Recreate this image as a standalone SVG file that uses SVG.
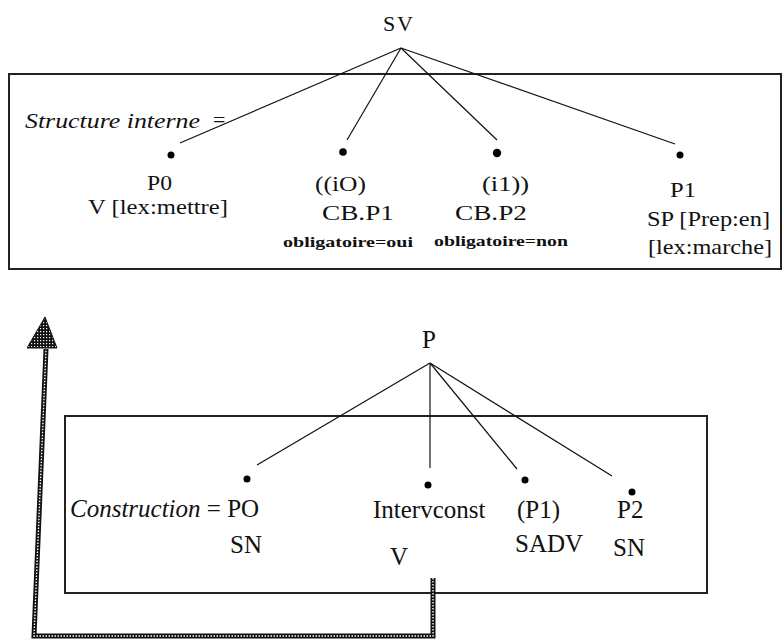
<svg xmlns="http://www.w3.org/2000/svg" width="784" height="639" viewBox="0 0 784 639">
  <style>
    text { fill: #111; }
    .lbl { font-size: 22px; }
    .big { font-size: 25px; }
    .small { font-size: 15px; font-weight: bold; }
    .it { font-style: italic; }
    .frame { fill: none; stroke: #222; stroke-width: 2; }
    .edge { fill: none; stroke: #111; stroke-width: 1.2; }
    .dot { fill: #000; }
    .thick { fill: none; stroke: #111; stroke-width: 5; stroke-linejoin: miter; }
    .hatch { fill: none; stroke: #fff; stroke-width: 1.4; stroke-dasharray: 1.5 1.5; }
  </style>
  <defs>
    <pattern id="checker" width="3" height="3" patternUnits="userSpaceOnUse">
      <rect width="3" height="3" fill="#111"/>
      <rect x="1" y="1" width="1.2" height="1.2" fill="#fff"/>
    </pattern>
  </defs>

  <rect width="784" height="639" fill="#fff"/>

  <!-- frames -->
  <rect class="frame" x="9" y="74" width="772" height="195"/>
  <rect class="frame" x="65" y="416" width="642" height="177"/>

  <!-- connectors -->
  <g id="connectors">
    <line class="edge" x1="401" y1="48" x2="180" y2="143"/>
    <line class="edge" x1="401" y1="48" x2="347" y2="140"/>
    <line class="edge" x1="401" y1="48" x2="497" y2="140"/>
    <line class="edge" x1="401" y1="48" x2="675" y2="144"/>
    <line class="edge" x1="430" y1="363" x2="257" y2="465"/>
    <line class="edge" x1="430" y1="363" x2="430" y2="468"/>
    <line class="edge" x1="430" y1="363" x2="517" y2="469"/>
    <line class="edge" x1="430" y1="363" x2="612" y2="476"/>
    <!-- heavy return arrow from the lower tree up to the upper one -->
    <g id="return-arrow">
      <path class="thick" d="M433,578 L433,636 L34,636 L46,349"/>
      <path class="hatch" d="M433,578 L433,636 L34,636 L46,349"/>
      <polygon points="45,317 57,348 27,348" fill="url(#checker)" stroke="#111" stroke-width="1"/>
    </g>
  </g>

  <g font-family="'Liberation Serif', 'DejaVu Serif', serif">
  <!-- upper tree -->
  <g id="SV">
    <text class="lbl" x="383" y="31" textLength="30" lengthAdjust="spacing">SV</text>
  </g>
  <g id="structure-label">
    <text class="lbl it" x="25" y="128" textLength="175" lengthAdjust="spacingAndGlyphs">Structure interne</text>
    <text class="lbl" x="213" y="127">=</text>
  </g>
  <g id="P0">
    <circle class="dot" cx="171" cy="155" r="3.5"/>
    <text class="lbl" x="147" y="190" textLength="25" lengthAdjust="spacingAndGlyphs">P0</text>
    <text class="lbl" x="88" y="214" textLength="140" lengthAdjust="spacingAndGlyphs">V [lex:mettre]</text>
  </g>
  <g id="CB-P1">
    <circle class="dot" cx="343" cy="152" r="3.8"/>
    <text class="lbl" x="315" y="191" textLength="51" lengthAdjust="spacingAndGlyphs">((iO)</text>
    <text class="lbl" x="322" y="220" textLength="72" lengthAdjust="spacingAndGlyphs">CB.P1</text>
    <text class="small" x="283" y="247" textLength="130" lengthAdjust="spacingAndGlyphs">obligatoire=oui</text>
  </g>
  <g id="CB-P2">
    <circle class="dot" cx="497" cy="153" r="4.2"/>
    <text class="lbl" x="482" y="191" textLength="47" lengthAdjust="spacingAndGlyphs">(i1))</text>
    <text class="lbl" x="455" y="220" textLength="72" lengthAdjust="spacingAndGlyphs">CB.P2</text>
    <text class="small" x="434" y="246" textLength="134" lengthAdjust="spacingAndGlyphs">obligatoire=non</text>
  </g>
  <g id="P1">
    <circle class="dot" cx="680" cy="155" r="3.5"/>
    <text class="lbl" x="670" y="197" textLength="26" lengthAdjust="spacingAndGlyphs">P1</text>
    <text class="lbl" x="647" y="226" textLength="123" lengthAdjust="spacingAndGlyphs">SP [Prep:en]</text>
    <text class="lbl" x="648" y="254" textLength="124" lengthAdjust="spacingAndGlyphs">[lex:marche]</text>
  </g>

  <!-- lower tree -->
  <g id="P">
    <text class="big" x="422" y="348">P</text>
  </g>
  <g id="PO">
    <circle class="dot" cx="247" cy="479" r="3.5"/>
    <text class="big" x="70" y="517"><tspan class="it">Construction</tspan> = PO</text>
    <text class="big" x="230" y="553">SN</text>
  </g>
  <g id="Intervconst">
    <circle class="dot" cx="428" cy="485" r="3.5"/>
    <text class="big" x="373" y="518">Intervconst</text>
    <text class="big" x="390" y="565">V</text>
  </g>
  <g id="P1-adv">
    <circle class="dot" cx="525" cy="480" r="3.5"/>
    <text class="big" x="517" y="518">(P1)</text>
    <text class="big" x="515" y="552">SADV</text>
  </g>
  <g id="P2">
    <circle class="dot" cx="632" cy="492" r="3.5"/>
    <text class="big" x="617" y="518">P2</text>
    <text class="big" x="613" y="556">SN</text>
  </g>
  </g>
</svg>
